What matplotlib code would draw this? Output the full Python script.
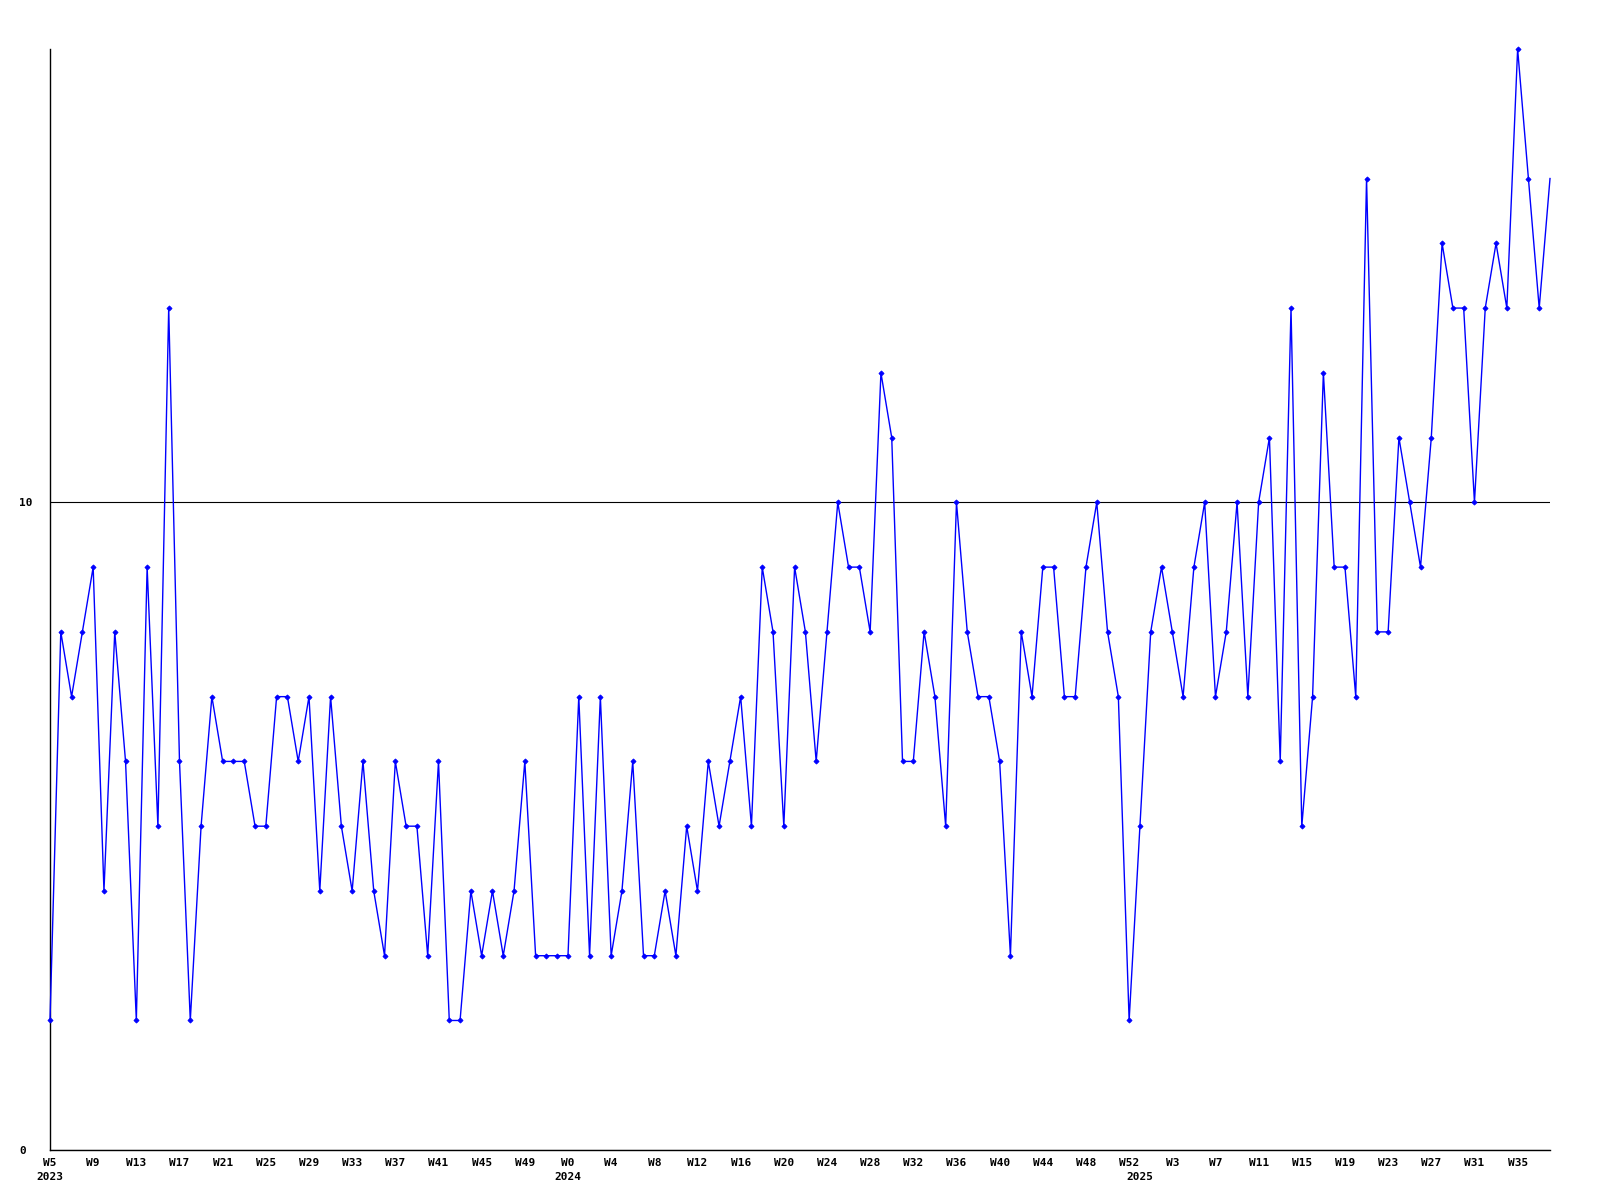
import numpy as np
import matplotlib
matplotlib.use("Agg")
import matplotlib.pyplot as plt
import matplotlib.transforms as mtransforms

# weekly counts, W5 2023 .. W38 2025
counts = [2, 8, 7, 8, 9, 4, 8, 6, 2, 9,
          5, 13, 6, 2, 5, 7, 6, 6, 6, 5,
          5, 7, 7, 6, 7, 4, 7, 5, 4, 6,
          4, 3, 6, 5, 5, 3, 6, 2, 2, 4,
          3, 4, 3, 4, 6, 3, 3, 3, 3, 7,
          3, 7, 3, 4, 6, 3, 3, 4, 3, 5,
          4, 6, 5, 6, 7, 5, 9, 8, 5, 9,
          8, 6, 8, 10, 9, 9, 8, 12, 11, 6,
          6, 8, 7, 5, 10, 8, 7, 7, 6, 3,
          8, 7, 9, 9, 7, 7, 9, 10, 8, 7,
          2, 5, 8, 9, 8, 7, 9, 10, 7, 8,
          10, 7, 10, 11, 6, 13, 5, 7, 12, 9,
          9, 7, 15, 8, 8, 11, 10, 9, 11, 14,
          13, 13, 10, 13, 14, 13, 17, 15, 13, 15]

# tick labels every 4 weeks
week_labels = ["W5", "W9", "W13", "W17", "W21", "W25", "W29", "W33", "W37",
               "W41", "W45", "W49",
               "W0", "W4", "W8", "W12", "W16", "W20", "W24", "W28", "W32",
               "W36", "W40", "W44", "W48", "W52",
               "W3", "W7", "W11", "W15", "W19", "W23", "W27", "W31", "W35"]
tick_step = 4

years = ["2023", "2024", "2025"]
year_start = [0, 48, 101]  # index of first week of each year

y_ticks = [0, 10]

plt.rcParams['font.family'] = ['DejaVu Sans Mono']
plt.rcParams['font.weight'] = 'bold'
fs = 8

fig = plt.figure(figsize=(16, 12), dpi=100)
ax = fig.add_axes([50 / 1600, 1 - 1150 / 1200, 1500 / 1600, 1101 / 1200])

x = np.arange(len(counts))
ax.plot(x, counts, color='#0000ff', lw=1.0, marker='D', markersize=2.6,
        markeredgewidth=0.6, markevery=slice(0, len(counts) - 1),
        clip_on=False, zorder=3)

ax.set_xlim(0, len(counts) - 1)
ax.set_ylim(0, 17)

ax.set_xticks(x[::tick_step][:len(week_labels)])
ax.set_xticklabels(week_labels, fontsize=fs, fontweight='bold')
ax.set_yticks(y_ticks)
ax.set_yticklabels([str(v) for v in y_ticks], fontsize=fs, fontweight='bold',
                   ha='left')
ax.tick_params(axis='x', length=0, pad=6)
ax.tick_params(axis='y', length=0, pad=22)

ax.yaxis.grid(True, color='black', lw=0.8)
ax.set_axisbelow(True)

for side in ['top', 'right']:
    ax.spines[side].set_visible(False)
for side in ['left', 'bottom']:
    ax.spines[side].set_color('black')
    ax.spines[side].set_linewidth(1.0)

trans = mtransforms.blended_transform_factory(ax.transData, ax.transAxes)
for yr, pos in zip(years, year_start):
    ax.text(pos, -0.0245, yr, transform=trans, ha='center', va='center',
            fontsize=fs, fontweight='bold')

fig.savefig("out.png", dpi=100)
